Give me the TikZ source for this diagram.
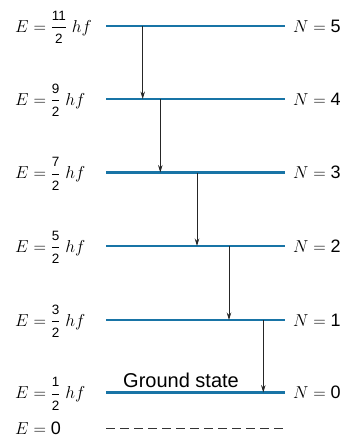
\documentclass[tikz,border=0pt]{standalone}
\usepackage{amsmath}
\usepackage{fontspec}
\setsansfont{Liberation Sans}
\usetikzlibrary{arrows.meta}
\definecolor{levelblue}{RGB}{24,116,166}
\newcommand{\fracdig}[1]{\hbox{\sffamily\fontsize{13.5}{14}\selectfont #1}}
\newcommand{\elab}[2]{$E=\genfrac{}{}{0.5pt}{0}{\fracdig{#1}}{\fracdig{#2}}\;hf$}
\newcommand{\nlab}[1]{$N=\hbox{\sffamily #1}$}
\begin{document}
\begin{tikzpicture}[x=1pt,y=-1pt,
  level/.style={draw=levelblue,line width=2.4pt},
  trans/.style={draw=black!85,line width=0.9pt,-{Stealth[length=7.5pt,width=4.5pt]}},
  txt/.style={inner sep=0pt,anchor=base west,font=\fontsize{18}{20}\selectfont}]
\useasboundingbox (0,0) rectangle (349,439);
% level coordinates
\foreach \n/\y in {5/26,4/99,3/172.5,2/246,1/320,0/392.5}{
  \coordinate (L\n a) at (106,\y);
  \coordinate (L\n b) at (285,\y);
}
\foreach \n in {5,4,3,2,1,0}{\draw[level] (L\n a) -- (L\n b);}
% dashed zero line
\coordinate (Za) at (106,428);
\coordinate (Zb) at (285,428);
\draw[black!80,line width=0.9pt,dash pattern=on 9pt off 5pt] (Za) -- (Zb);
% left labels
\node[txt] (e5) at (15,32) {\elab{11}{2}};
\node[txt] (e4) at (15,105) {\elab{9}{2}};
\node[txt] (e3) at (15,178.5) {\elab{7}{2}};
\node[txt] (e2) at (15,252) {\elab{5}{2}};
\node[txt] (e1) at (15,326) {\elab{3}{2}};
\node[txt] (e0) at (15,398.5) {\elab{1}{2}};
\node[txt] (ez) at (15,434.5) {$E=\hbox{\sffamily 0}$};
% right labels
\node[txt] (n5) at (293,32) {\nlab{5}};
\node[txt] (n4) at (293,105) {\nlab{4}};
\node[txt] (n3) at (293,178.5) {\nlab{3}};
\node[txt] (n2) at (293,252) {\nlab{2}};
\node[txt] (n1) at (293,326) {\nlab{1}};
\node[txt] (n0) at (293,398.5) {\nlab{0}};
% ground state
\node[inner sep=0pt,anchor=base west,font=\sffamily\fontsize{20}{20}\selectfont] (gs) at (123,387) {Ground state};
% transitions
\coordinate (t5s) at (142.7,26);  \coordinate (t5e) at (142.7,99);
\coordinate (t4s) at (160.3,99);  \coordinate (t4e) at (160.3,172.5);
\coordinate (t3s) at (197,172.5); \coordinate (t3e) at (197,246);
\coordinate (t2s) at (229,246);   \coordinate (t2e) at (229,320);
\coordinate (t1s) at (263.3,320); \coordinate (t1e) at (263.3,392.5);
\draw[trans] (t5s) -- (t5e);
\draw[trans] (t4s) -- (t4e);
\draw[trans] (t3s) -- (t3e);
\draw[trans] (t2s) -- (t2e);
\draw[trans] (t1s) -- (t1e);
\end{tikzpicture}
\end{document}
